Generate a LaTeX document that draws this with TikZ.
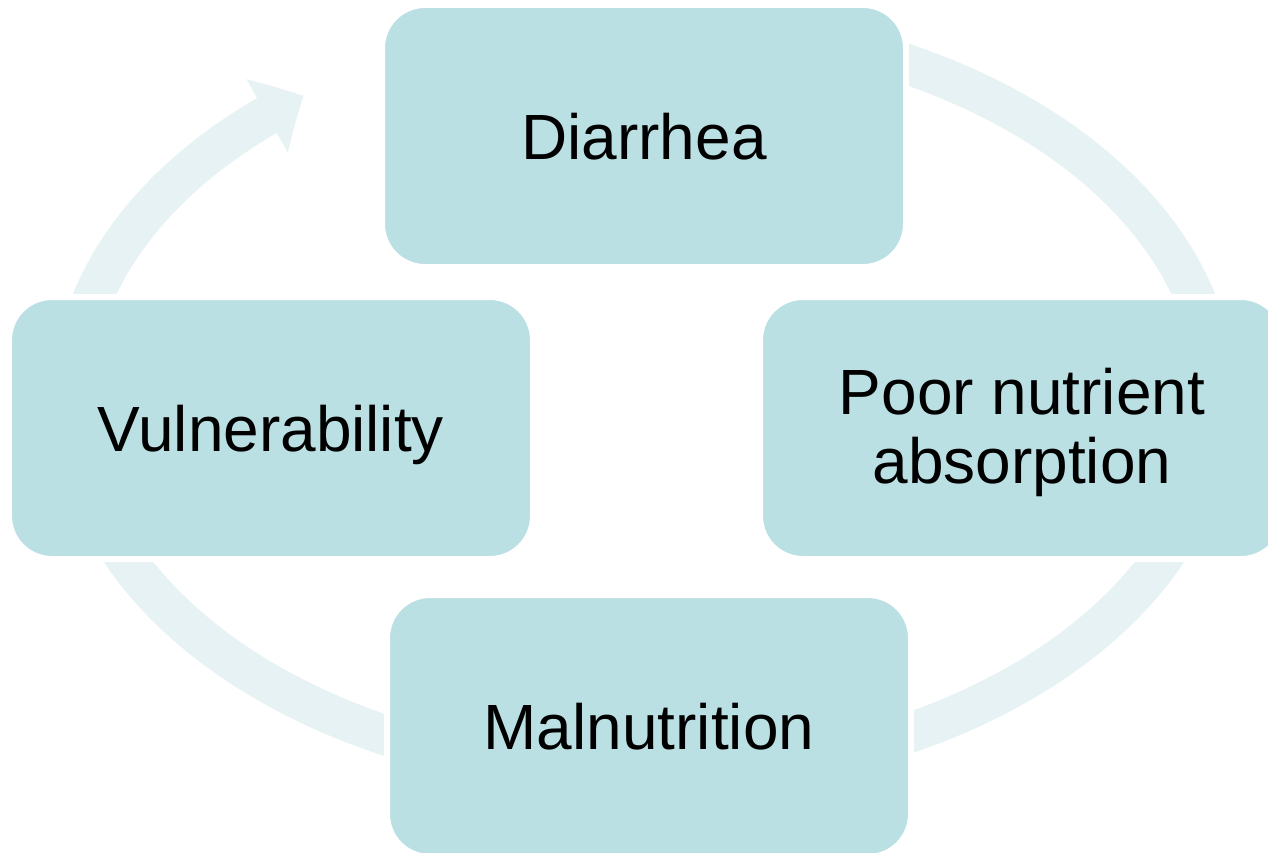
\documentclass[tikz,border=0pt]{standalone}
\usepackage{fontspec}
\setmainfont{Liberation Sans}
\usetikzlibrary{calc,arrows.meta,bending}
\definecolor{stagefill}{RGB}{187,224,227}
\definecolor{ringfill}{RGB}{230,242,243}
\def\ringarc[#1](#2)(#3:#4){\draw[#1] ($(#2)+(#3:11.44 and 7.54)$) arc[start angle=#3, end angle=#4, x radius=11.44, y radius=7.54];}
\tikzset{
	stage/.style={rectangle, rounded corners=0.86cm, fill=stagefill, draw=white, line width=0.12cm,
		minimum width=10.48cm, minimum height=5.24cm, inner sep=0pt, align=center,
		text height=0.92cm, text depth=0pt, font=\fontsize{36.4}{38.8}\selectfont},
	ringband/.style={line width=0.8cm, color=ringfill}
}

\begin{document}
\begin{tikzpicture}
		%%%%% START %%%%%
		
		\useasboundingbox (0, 0) rectangle (25.36, -17.06);
		\coordinate (hub) at (12.88, -7.98);
		
		% ring behind the boxes
		\ringarc[ringband](hub)(70:10)
		\ringarc[ringband](hub)(-20:-70)
		\ringarc[ringband](hub)(-110:-160)
		\ringarc[ringband, -{Triangle[length=0.84cm, width=1.62cm, bend]}](hub)(170:126.5)
		
		\node[stage] (diarrhea) at (12.88, -2.72) {Diarrhea};
		\node[stage, text height=2.2cm] (absorption) at (20.44, -8.56) {Poor nutrient\\absorption};
		\node[stage] (malnutrition) at (12.98, -14.52) {Malnutrition};
		\node[stage] (vulnerability) at (5.42, -8.56) {Vulnerability};
		
		%%%%% END %%%%%
	\end{tikzpicture}
\end{document}
